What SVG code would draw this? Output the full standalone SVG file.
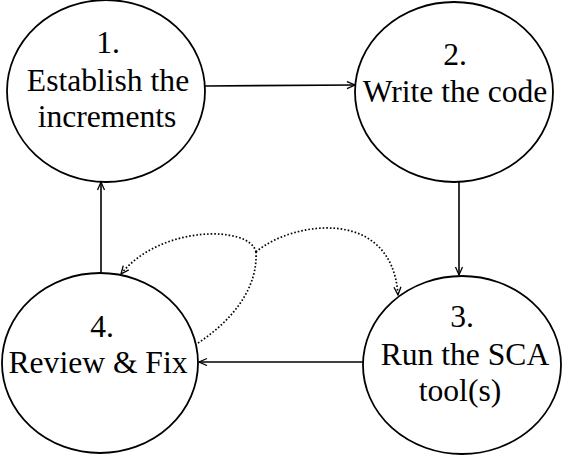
<svg xmlns="http://www.w3.org/2000/svg" width="562" height="457" viewBox="0 0 562 457">
<style>
.node ellipse{fill:#fff;stroke:#000;stroke-width:1.8}
.conn path{fill:none;stroke:#000;stroke-width:1.6}
.conn path.dot{stroke-width:1.7;stroke-dasharray:1.6 2}
</style>
<defs>
<marker id="arr" markerUnits="userSpaceOnUse" markerWidth="12" markerHeight="10" refX="9" refY="4" orient="auto">
<path d="M1,0.5 L9,4 L1,7.5" fill="none" stroke="#000" stroke-width="1.3"/>
</marker>
</defs>
<g font-family="Liberation Serif, serif" font-size="31.6" text-anchor="middle" fill="#000">
<g id="n1" class="node">
<ellipse cx="106" cy="91" rx="99" ry="91"/>
<text x="108" y="53">1.</text>
<text x="108" y="91">Establish the</text>
<text x="107" y="127">increments</text>
</g>
<g id="n2" class="node">
<ellipse cx="454" cy="92" rx="99" ry="90"/>
<text x="455" y="65">2.</text>
<text x="455" y="102">Write the code</text>
</g>
<g id="n3" class="node">
<ellipse cx="462" cy="365" rx="99" ry="89"/>
<text x="462" y="327">3.</text>
<text x="465" y="365">Run the SCA</text>
<text x="460" y="401">tool(s)</text>
</g>
<g id="n4" class="node">
<ellipse cx="100" cy="363" rx="98" ry="90"/>
<text x="102" y="337">4.</text>
<text x="98" y="373">Review &amp; Fix</text>
</g>
</g>
<g id="connectors" class="conn">
<path d="M205,86 L355,85" marker-end="url(#arr)"/>
<path d="M459,182 L459,275" marker-end="url(#arr)"/>
<path d="M363,362 L199,362" marker-end="url(#arr)"/>
<path d="M101,272 L101,182" marker-end="url(#arr)"/>
<path class="dot" d="M198,343 C230,322 258,290 256,252"/>
<path class="dot" d="M256,252 C250,225 160,225 121,274" marker-end="url(#arr)"/>
<path class="dot" d="M256,252 C290,222 392,205 398,295" marker-end="url(#arr)"/>
</g>
</svg>
